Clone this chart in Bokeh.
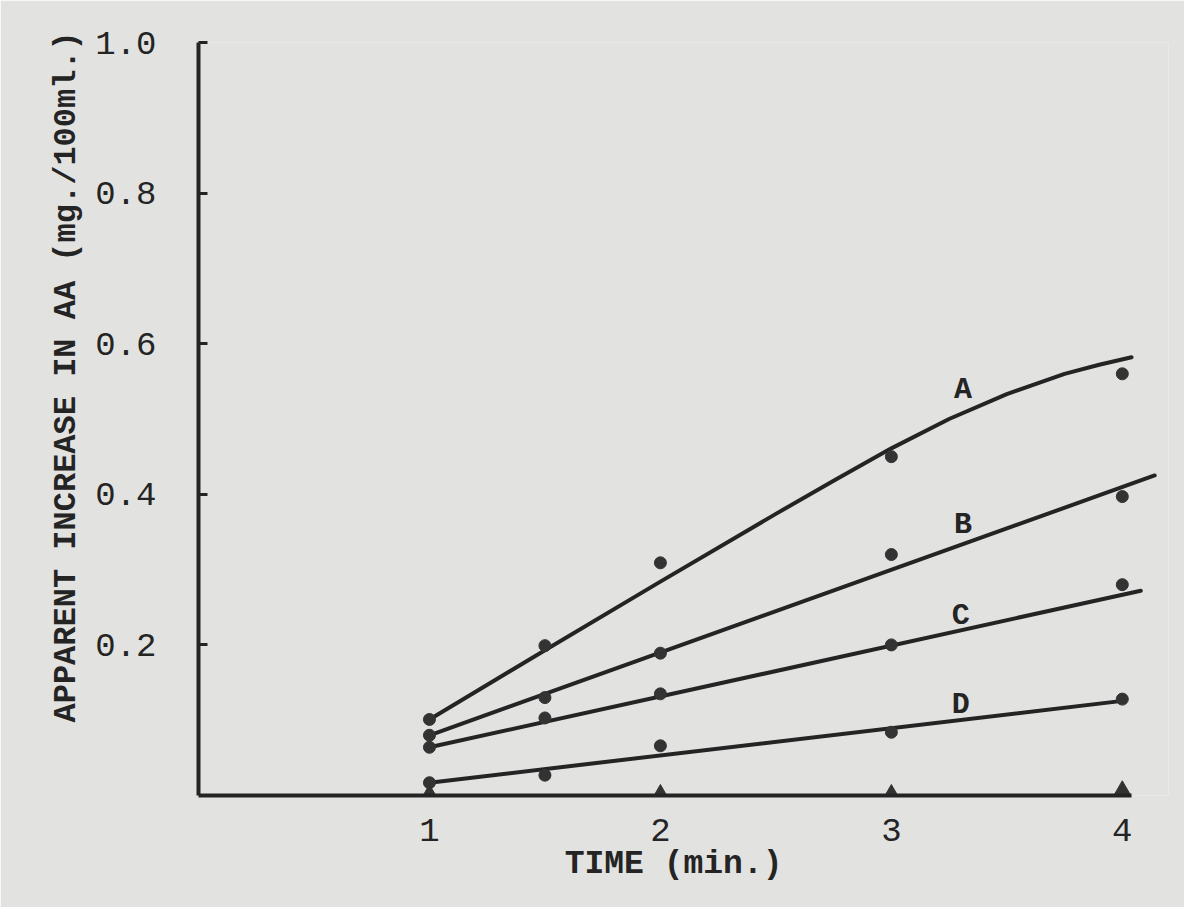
from bokeh.plotting import figure
from bokeh.models import Range1d, FixedTicker, Title, ColumnDataSource
from bokeh.core.properties import value
from bokeh.embed import file_html
from bokeh.resources import INLINE

# ---- data ----
time_pts = [1.0, 1.5, 2.0, 3.0, 4.0]
A_pts = [0.101, 0.199, 0.309, 0.450, 0.560]
B_pts = [0.080, 0.130, 0.189, 0.320, 0.397]
C_pts = [0.064, 0.103, 0.135, 0.200, 0.280]
D_pts = [0.017, 0.027, 0.066, 0.084, 0.128]

zero_x = [1.0, 2.0, 3.0, 4.0]
zero_y = [0.0, 0.0, 0.0, 0.005]

# fitted curves as drawn
A_fit_x = [1.0, 1.5, 2.0, 2.5, 2.75, 3.0, 3.25, 3.5, 3.75, 3.9, 4.04]
A_fit_y = [0.101, 0.193, 0.284, 0.374, 0.418, 0.461, 0.500, 0.533, 0.560, 0.572, 0.582]
B_fit_x = [1.0, 4.14]
B_fit_y = [0.080, 0.425]
C_fit_x = [1.0, 4.08]
C_fit_y = [0.064, 0.272]
D_fit_x = [1.0, 4.01]
D_fit_y = [0.017, 0.126]

curve_names = ["A", "B", "C", "D"]
curve_label_x = [3.31, 3.31, 3.30, 3.30]
curve_label_y = [0.538, 0.359, 0.239, 0.120]

x_ticks = [1, 2, 3, 4]
x_tick_labels = ["1", "2", "3", "4"]
y_ticks = [0.2, 0.4, 0.6, 0.8, 1.0]
y_tick_labels = ["0.2", "0.4", "0.6", "0.8", "1.0"]

x_title = "TIME  (min.)"
y_title = "APPARENT INCREASE IN AA (mg./100ml.)"

# ---- style ----
FONT = "Liberation Mono"
INK = "#242424"
DOT = "#333333"
PAPER = "#e2e2e1"

p = figure(width=1184, height=907, output_backend="svg", toolbar_location=None,
           x_range=Range1d(0, 4.2), y_range=Range1d(0, 1.0),
           min_border_left=198, min_border_right=16,
           min_border_top=42, min_border_bottom=112)

p.background_fill_color = PAPER
p.border_fill_color = PAPER
p.outline_line_color = None
p.grid.visible = False

# axes
p.xaxis.ticker = FixedTicker(ticks=x_ticks)
p.xaxis.major_label_overrides = {t: l for t, l in zip(x_ticks, x_tick_labels)}
p.yaxis.ticker = FixedTicker(ticks=y_ticks)
p.yaxis.major_label_overrides = {t: l for t, l in zip(y_ticks, y_tick_labels)}
p.xaxis.bounds = (0, 4.04)
p.yaxis.bounds = (0, 1.0)
for ax in (p.xaxis, p.yaxis):
    ax.axis_line_width = 4
    ax.axis_line_color = INK
    ax.minor_tick_line_color = None
    ax.major_label_text_font = FONT
    ax.major_label_text_font_size = "34px"
    ax.major_label_text_color = INK
p.xaxis.major_tick_in = 0
p.xaxis.major_tick_out = 0
p.xaxis.major_label_standoff = 23
p.xaxis.axis_label = x_title
p.xaxis.axis_label_text_font = FONT
p.xaxis.axis_label_text_font_size = "33px"
p.xaxis.axis_label_text_font_style = "bold"
p.xaxis.axis_label_text_color = INK
p.xaxis.axis_label_standoff = 2

p.yaxis.major_tick_in = 9
p.yaxis.major_tick_out = 0
p.yaxis.major_tick_line_width = 3
p.yaxis.major_tick_line_color = INK
p.yaxis.major_label_standoff = 42

# fitted curves
for fx, fy in [(A_fit_x, A_fit_y), (B_fit_x, B_fit_y), (C_fit_x, C_fit_y), (D_fit_x, D_fit_y)]:
    p.line(fx, fy, line_width=4, line_color=INK, line_join="round", line_cap="round")

# data points
for ys in (A_pts, B_pts, C_pts, D_pts):
    p.scatter(time_pts, ys, marker="circle", size=12, fill_color=DOT, line_color=DOT)
p.scatter(zero_x, zero_y, marker="triangle", size=19, fill_color=DOT, line_color=DOT)

# curve letters
src = ColumnDataSource(dict(x=curve_label_x, y=curve_label_y, t=curve_names))
p.text(x="x", y="y", text="t", source=src, text_font=value(FONT),
       text_font_size="30px", text_font_style="bold", text_color=INK,
       text_align="center", text_baseline="middle")

# y-axis title (starts near the bottom, runs upward past the top of the axis)
p.add_layout(Title(text=y_title, align="left", offset=73, standoff=16,
                   text_font=FONT, text_font_size="32px", text_font_style="bold",
                   text_color=INK), "left")

open("out.html", "w").write(file_html(p, INLINE))
